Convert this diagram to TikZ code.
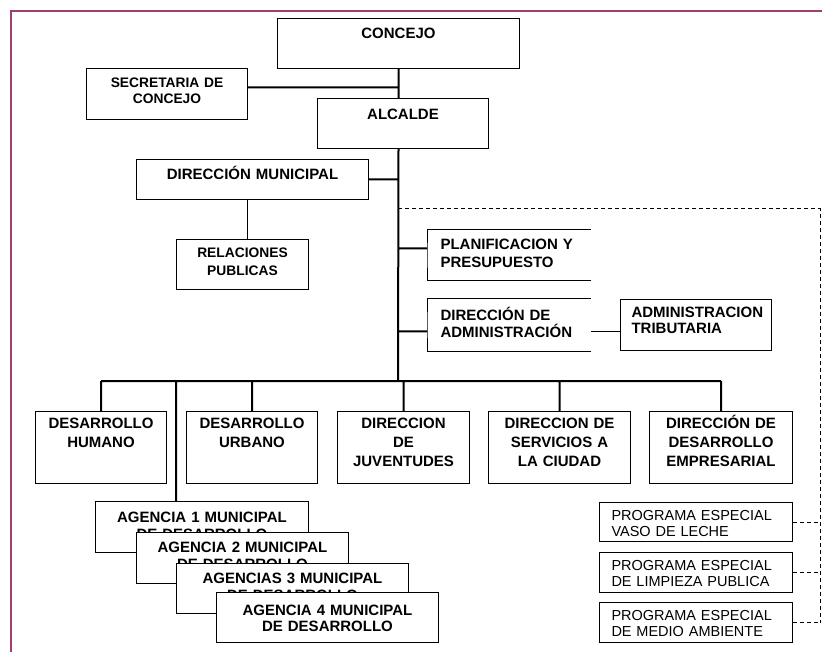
\documentclass[tikz,border=0pt]{standalone}
\usepackage{amsmath}
\usepackage{fontspec}
\setmainfont{Liberation Sans}
\usepackage{tikz}
\usetikzlibrary{arrows}
\definecolor{marco}{RGB}{160,62,112}

\begin{document}
\begin{tikzpicture}[x=1pt,y=-1pt,thick,
                    org node/.style n args={4}{draw,fill=white,line width=1pt,inner sep=0pt,
                      anchor=north west,align=center,text width=#1pt,text height=#2pt,
                      text depth=#3pt,font=\bfseries\fontsize{15}{#4}\selectfont},
                    indent/.style={align=left,execute at begin node={\leftskip=#1pt}},
                    small font/.style={font=\bfseries\fontsize{13.8}{#1}\selectfont},
                    prog font/.style={font=\fontsize{14.5}{16}\selectfont},
                    trunk/.style={line width=2pt},
                    dashed line/.style={line width=1pt,dash pattern=on 4pt off 3pt}]

  \fill[white] (0,0) rectangle (822,652);
  \useasboundingbox (0,0) rectangle (822,652);
  \draw[marco,line width=2pt] (11,652) -- (11,11) -- (822,11);

  \node[org node={242}{20}{30}{18}] (con) at (277,18) {CONCEJO};
  \node[org node={161}{19}{32}{16},small font=16] (sec) at (86,68) {SECRETARIA DE\\CONCEJO};
  \node[org node={171}{21}{29}{18}] (alc) at (317,98) {ALCALDE};
  \node[org node={232}{20}{20}{18}] (dm) at (136,159) {DIRECCIÓN MUNICIPAL};
  \node[org node={132}{18}{32}{18},small font=18] (rp) at (176,239) {RELACIONES\\PUBLICAS};
  \node[org node={163}{19}{31}{18},draw=none,indent=13] (pp) at (427,230) {PLANIFICACION Y\\PRESUPUESTO};
  \node[org node={163}{21}{30}{17},draw=none,indent=13] (da) at (427,299) {DIRECCIÓN DE\\ADMINISTRACIÓN};
  \node[org node={151}{18}{33}{16},indent=11] (at) at (620,299) {ADMINISTRACION\\TRIBUTARIA};

  \node[org node={131}{17}{55}{19}] (dh) at (35,411) {DESARROLLO\\HUMANO};
  \node[org node={131}{17}{55}{19}] (du) at (186,411) {DESARROLLO\\URBANO};
  \node[org node={132}{17}{55}{19}] (dj) at (337,411) {DIRECCION\\DE\\JUVENTUDES};
  \node[org node={142}{17}{55}{19}] (ds) at (488,411) {DIRECCION DE\\SERVICIOS A\\LA CIUDAD};
  \node[org node={143}{17}{55}{19}] (de) at (649,411) {DIRECCIÓN DE\\DESARROLLO\\EMPRESARIAL};

  \node[org node={213}{21}{30}{17}] (a1) at (95,501) {AGENCIA 1 MUNICIPAL\\DE DESARROLLO};
  \node[org node={212}{20}{31}{17}] (a2) at (136,532) {AGENCIA 2 MUNICIPAL\\DE DESARROLLO};
  \node[org node={232}{20}{30}{17}] (a3) at (176,563) {AGENCIAS 3 MUNICIPAL\\DE DESARROLLO};
  \node[org node={222}{23}{27}{16}] (a4) at (216,592) {AGENCIA 4 MUNICIPAL\\DE DESARROLLO};

  \node[org node={193}{18}{21}{16},indent=12,prog font] (p1) at (599,502) {PROGRAMA ESPECIAL\\VASO DE LECHE};
  \node[org node={193}{18}{22}{16},indent=12,prog font] (p2) at (599,552) {PROGRAMA ESPECIAL\\DE LIMPIEZA PUBLICA};
  \node[org node={193}{18}{22}{16},indent=12,prog font] (p3) at (599,602) {PROGRAMA ESPECIAL\\DE MEDIO AMBIENTE};

  % open boxes
  \draw[line width=1pt] (pp.north east) -| (pp.west) |- (pp.south east);
  \draw[line width=1pt] (da.north east) -| (da.west) |- (da.south east);

  \coordinate (bus) at (398,381);
  \coordinate (ag) at (176,381);
  \coordinate (dsh) at (398,209);
  \coordinate (esq) at (820,209);

  \draw[trunk]
    (con.south) -- (con.south |- alc.north)
    ([yshift=6.5pt]sec.east) -- ([yshift=6.5pt]sec.east -| con.south)
    (alc.south -| con.south) -- (bus)
    (dm.east) -- (dm.east -| bus)
    ([yshift=7pt]pp.west) -- ([yshift=7pt]pp.west -| bus)
    ([yshift=-6.5pt]da.west) -- ([yshift=-6.5pt]da.west -| bus)
    (dh.north |- bus) -- (de.north |- bus)
    (dh.north) -- (dh.north |- bus)
    (du.north) -- (du.north |- bus)
    (dj.north) -- (dj.north |- bus)
    (ds.north) -- (ds.north |- bus)
    (de.north) -- (de.north |- bus)
    (ag) -- (ag |- a1.north);

  \draw[line width=1pt]
    ([xshift=5pt]rp.north) -- ([xshift=5pt]rp.north |- dm.south)
    ([yshift=-6.5pt]da.east) -- ([yshift=-6.5pt]at.west);

  \draw[dashed line]
    (dsh) -- (esq) -- (esq |- p3.east)
    (p1.east) -- (p1.east -| esq)
    (p2.east) -- (p2.east -| esq)
    (p3.east) -- (p3.east -| esq);
\end{tikzpicture}
\end{document}
